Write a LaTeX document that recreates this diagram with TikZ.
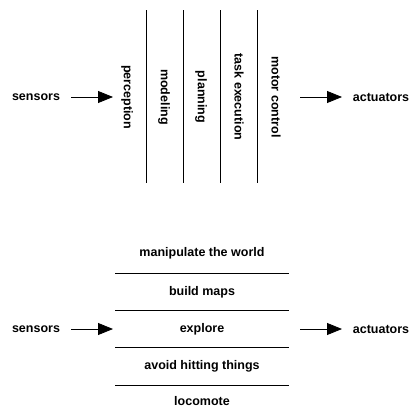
\documentclass[tikz,border=0pt]{standalone}
\usepackage{fontspec}
\setmainfont{Liberation Sans}
\usetikzlibrary{arrows.meta}
\begin{document}
\begin{tikzpicture}[x=1pt,y=-1pt,
  lbl/.style={font=\bfseries\fontsize{12.5}{14}\selectfont, inner sep=0pt},
  vlbl/.style={lbl, rotate=-90},
  sep/.style={line width=0.8pt},
  flow/.style={line width=0.8pt, -{Triangle[length=15pt,width=12pt]}}]
\useasboundingbox (0,0) rectangle (410,407);
% top: layered pipeline
\node[lbl] (s1) at (36,97) {sensors};
\node[lbl] (a1) at (381,97) {actuators};
\coordinate (s1e) at (71,97);
\coordinate (p1) at (113,97);
\coordinate (m1) at (300,97);
\coordinate (a1s) at (342,97);
\draw[flow] (s1e) -- (p1);
\draw[flow] (m1) -- (a1s);
\node[vlbl] (perc) at (127,97) {perception};
\node[vlbl] (mod) at (164,97) {modeling};
\node[vlbl] (plan) at (201,97) {planning};
\node[vlbl] (task) at (239,97) {task execution};
\node[vlbl] (mot) at (276,97) {motor control};
\foreach \x [count=\i] in {146,183,220,257} {
  \coordinate (vt\i) at (\x,10);
  \coordinate (vb\i) at (\x,183);
  \draw[sep] (vt\i) -- (vb\i);
}
% bottom: behaviour layers
\node[lbl] (s2) at (36,329) {sensors};
\node[lbl] (a2) at (381,329) {actuators};
\coordinate (s2e) at (71,329);
\coordinate (p2) at (113,329);
\coordinate (m2) at (300,329);
\coordinate (a2s) at (342,329);
\draw[flow] (s2e) -- (p2);
\draw[flow] (m2) -- (a2s);
\node[lbl] (manip) at (202,253) {manipulate the world};
\node[lbl] (build) at (202,292) {build maps};
\node[lbl] (expl) at (202,329) {explore};
\node[lbl] (avoid) at (202,366) {avoid hitting things};
\node[lbl] (loco) at (202,401) {locomote};
\foreach \y [count=\i] in {273,310,347,385} {
  \coordinate (hl\i) at (115,\y);
  \coordinate (hr\i) at (289,\y);
  \draw[sep] (hl\i) -- (hr\i);
}
\end{tikzpicture}
\end{document}
